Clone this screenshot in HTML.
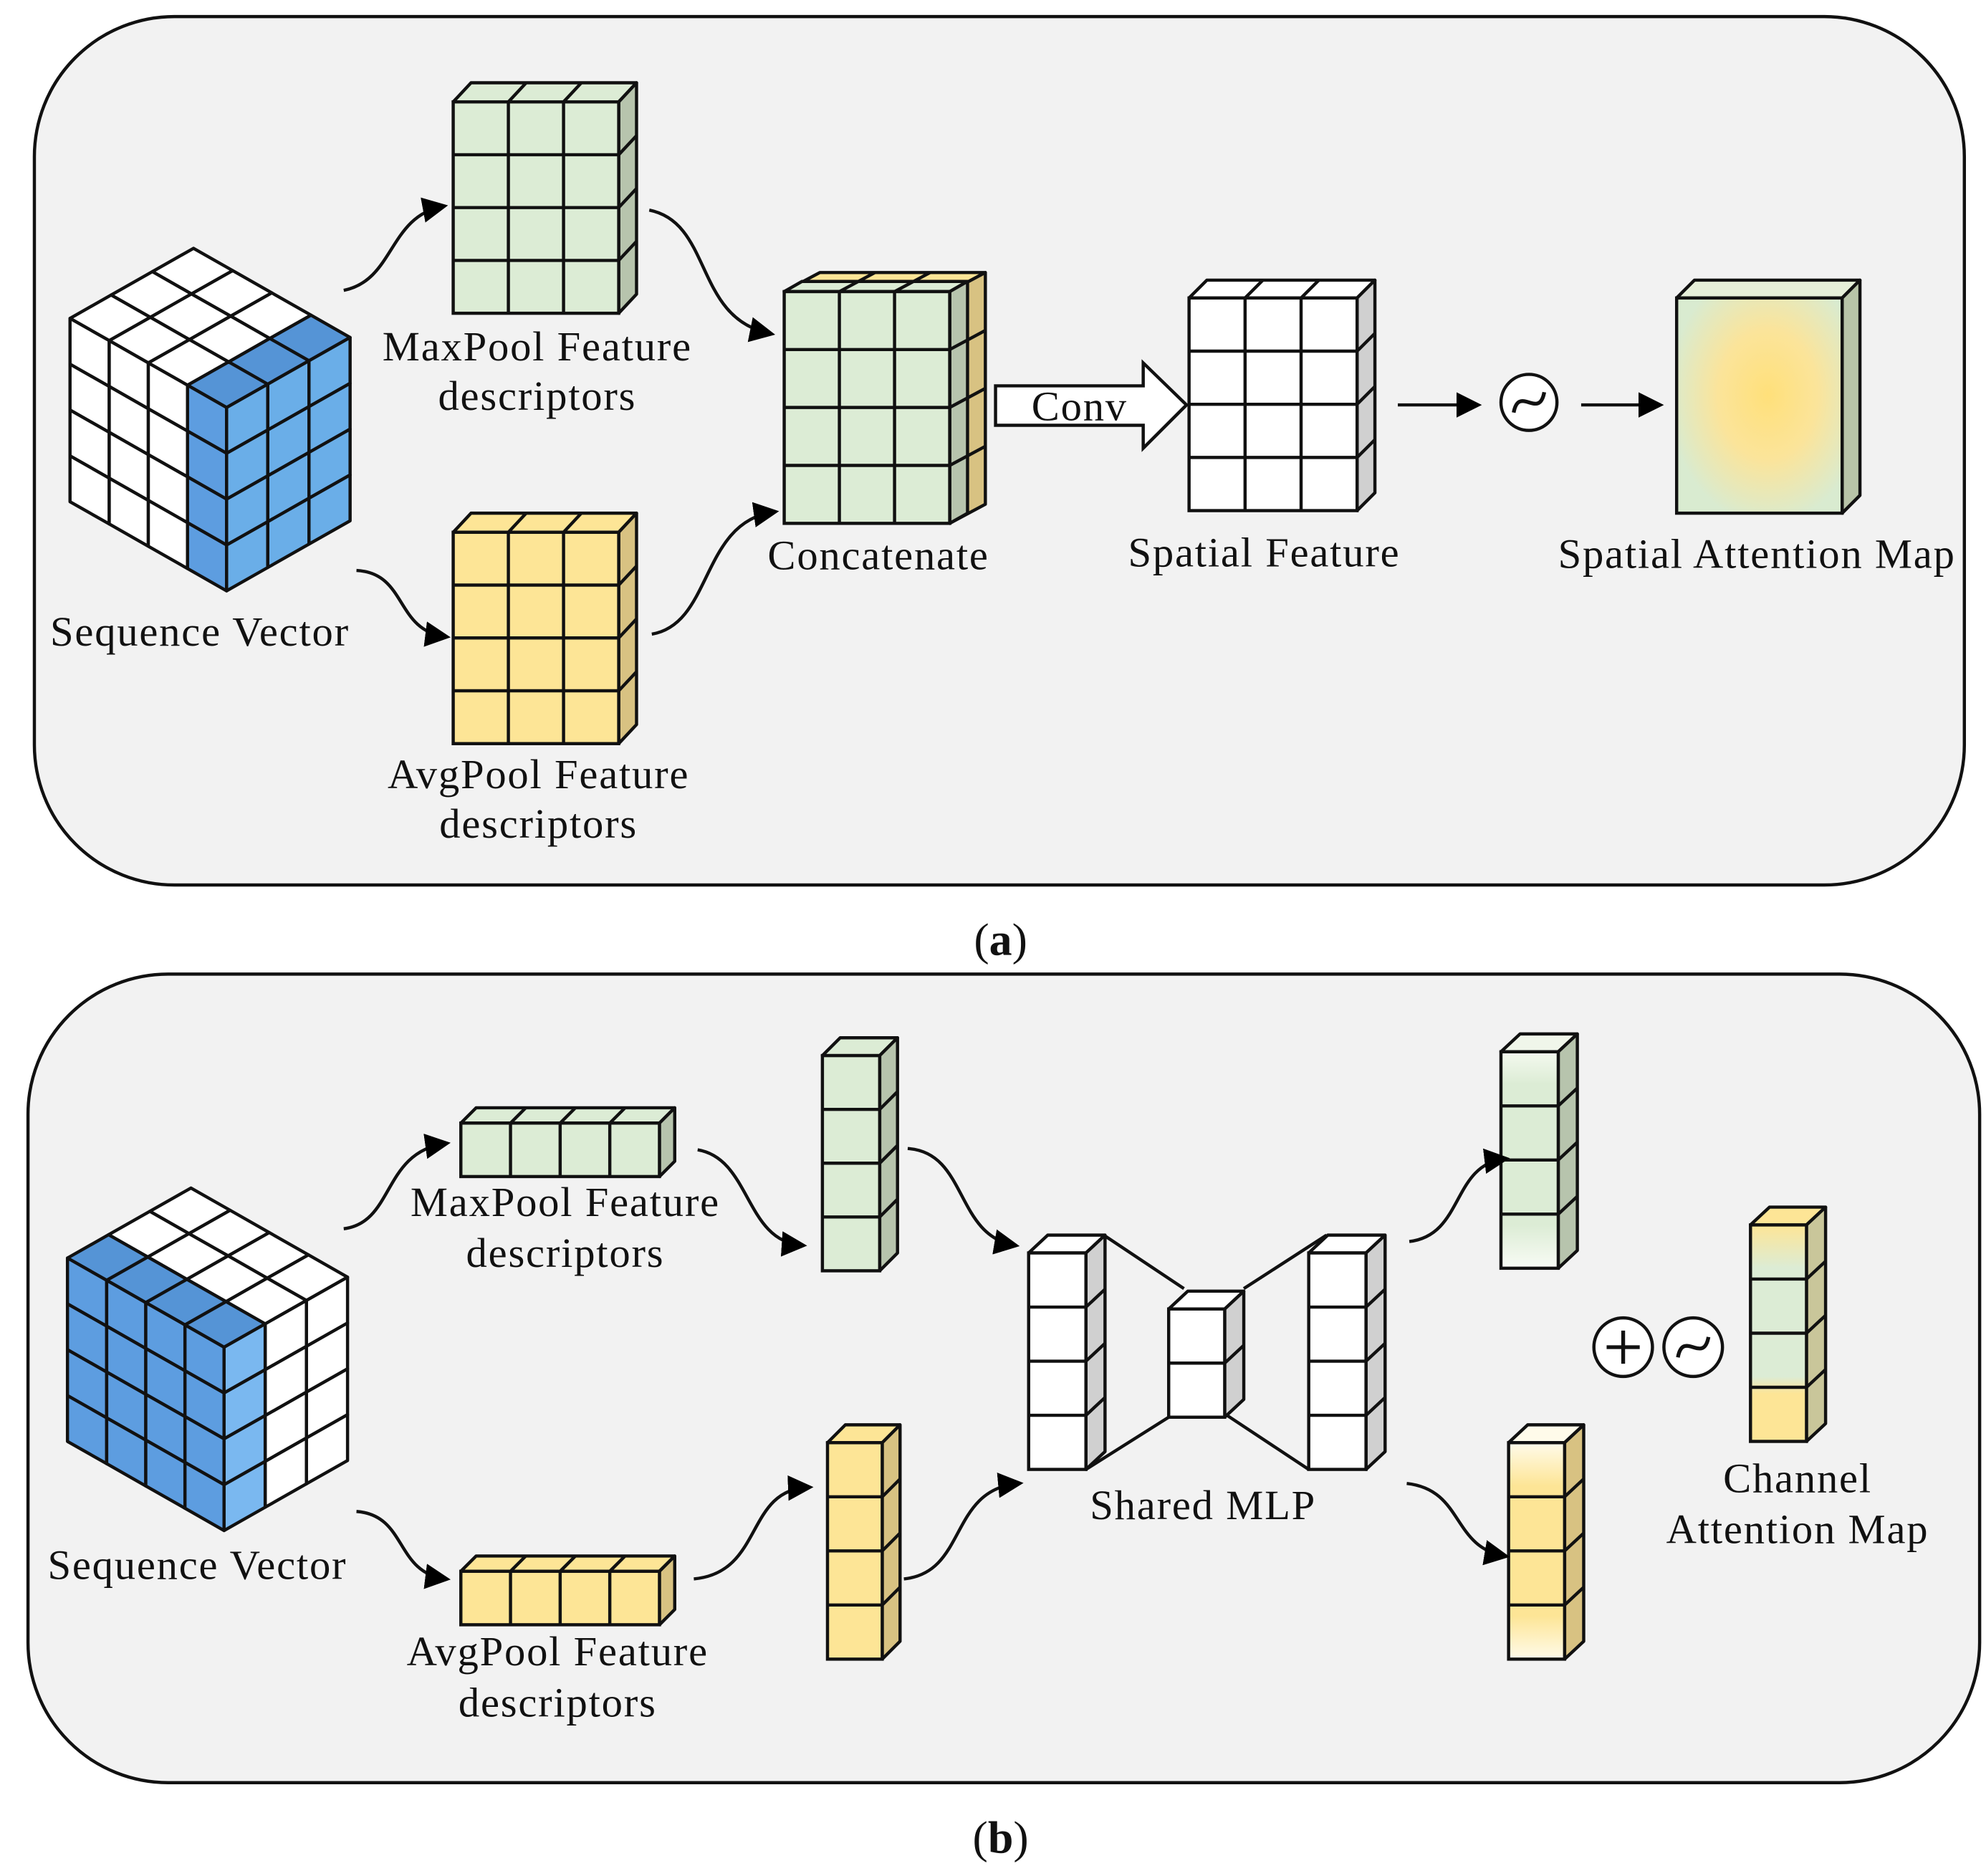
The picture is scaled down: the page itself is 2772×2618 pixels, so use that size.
<!DOCTYPE html>
<html><head><meta charset="utf-8"><style>
html,body{margin:0;padding:0;background:#fff}
svg{display:block}
text{font-family:"Liberation Serif",serif;fill:#111}
</style></head><body>
<svg id="s" xmlns="http://www.w3.org/2000/svg" width="2772" height="2618" viewBox="0 0 1560 1473.3">
<defs>
<marker id="ah2" viewBox="0 0 10 10" refX="8" refY="5" markerWidth="20" markerHeight="20" orient="auto" markerUnits="userSpaceOnUse"><path d="M0,0 L10,5 L0,10 z" fill="#000"/></marker>
<radialGradient id="sam" cx="0.55" cy="0.45" r="0.6"><stop offset="0" stop-color="#ffe07a"/><stop offset="0.5" stop-color="#fbe49a"/><stop offset="1" stop-color="#d9ebd0"/></radialGradient>
<linearGradient id="gw" x1="0" y1="0" x2="0" y2="1"><stop offset="0" stop-color="#f4f9ef"/><stop offset="0.15" stop-color="#dcecd5"/><stop offset="0.8" stop-color="#dcecd5"/><stop offset="1" stop-color="#f8fbf5"/></linearGradient>
<linearGradient id="yw" x1="0" y1="0" x2="0" y2="1"><stop offset="0" stop-color="#fffbea"/><stop offset="0.2" stop-color="#fde596"/><stop offset="0.8" stop-color="#fde596"/><stop offset="1" stop-color="#fffbea"/></linearGradient>
<linearGradient id="cam" x1="0" y1="0" x2="0" y2="1"><stop offset="0" stop-color="#fde596"/><stop offset="0.2" stop-color="#dcecd5"/><stop offset="0.7" stop-color="#dcecd5"/><stop offset="0.78" stop-color="#fde596"/><stop offset="1" stop-color="#fde596"/></linearGradient>
</defs>
<rect x="27" y="13" width="1516" height="682" rx="110" fill="#f2f2f2" stroke="#111" stroke-width="2.5"/>
<rect x="22" y="765" width="1533" height="635" rx="110" fill="#f2f2f2" stroke="#111" stroke-width="2.5"/>
<g id="g"></g>
<g font-size="33" letter-spacing="1" text-anchor="middle">
<text x="422" y="283">MaxPool Feature</text><text x="422" y="322">descriptors</text>
<text x="157" y="507">Sequence Vector</text>
<text x="423" y="619">AvgPool Feature</text><text x="423" y="658">descriptors</text>
<text x="690" y="447">Concatenate</text>
<text x="993" y="445">Spatial Feature</text>
<text x="1380" y="446">Spatial Attention Map</text>
<text x="848" y="330">Conv</text>
<text x="444" y="955">MaxPool Feature</text><text x="444" y="995">descriptors</text>
<text x="155" y="1240">Sequence Vector</text>
<text x="438" y="1308">AvgPool Feature</text><text x="438" y="1348">descriptors</text>
<text x="945" y="1193">Shared MLP</text>
<text x="1412" y="1172">Channel</text><text x="1412" y="1212">Attention Map</text>
</g>
<text x="786" y="750" font-size="36" text-anchor="middle">(<tspan font-weight="bold">a</tspan>)</text>
<text x="786" y="1455" font-size="36" text-anchor="middle">(<tspan font-weight="bold">b</tspan>)</text>
</svg>
<script>
var g=document.getElementById('g'),h='';
function P(pts,f,sw){return '<polygon points="'+pts.map(p=>p[0].toFixed(1)+','+p[1].toFixed(1)).join(' ')+'" fill="'+f+'" stroke="#111" stroke-width="'+(sw||2.5)+'" stroke-linejoin="round"/>';}
function L(a,b,sw){return '<line x1="'+a[0]+'" y1="'+a[1]+'" x2="'+b[0]+'" y2="'+b[1]+'" stroke="#111" stroke-width="'+(sw||2.5)+'"/>';}
function box(x,y,w,h2,c,r,dx,dy,fr,tp,sd){
 var s='';
 s+=P([[x,y],[x+dx,y-dy],[x+w+dx,y-dy],[x+w,y]],tp);
 s+=P([[x+w,y],[x+w+dx,y-dy],[x+w+dx,y+h2-dy],[x+w,y+h2]],sd);
 s+='<rect x="'+x+'" y="'+y+'" width="'+w+'" height="'+h2+'" fill="'+fr+'" stroke="#111" stroke-width="2.5"/>';
 for(var i=1;i<c;i++){var xx=x+w*i/c;s+=L([xx,y],[xx,y+h2]);s+=L([xx,y],[xx+dx,y-dy]);}
 for(var j=1;j<r;j++){var yy=y+h2*j/r;s+=L([x,yy],[x+w,yy]);s+=L([x+w,yy],[x+w+dx,yy-dy]);}
 return s;}
var G='#dcecd5',GS='#b7c4ad',Y='#fde596',YS='#d8c282',W='#fff',WS='#d0d0d0';
h+=box(356,80,130,166,3,4,14,15,G,G,GS);
h+=box(356,418,130,166,3,4,14,15,Y,Y,YS);
h+=P([[616,229],[644,214],[774,214],[746,229]],Y);
h+=P([[746,229],[774,214],[774,396],[746,411]],YS);
h+=P([[616,229],[630,221],[760,221],[746,229]],G);
h+=P([[746,229],[760,221],[760,403],[746,411]],GS);
h+=box(616,229,130,182,3,4,0,0,G,G,GS);
for(var i=1;i<3;i++){var xx=616+130*i/3;h+=L([xx,229],[xx+28,214]);}
for(var j=1;j<4;j++){var yy=229+182*j/4;h+=L([746,yy],[774,yy-15]);}
h+=box(934,234,132,167,3,4,14,14,W,W,WS);
h+=box(1317,234,130,169,1,1,14,14,'url(#sam)','#e6efd9','#b8c4a8');
h+='<path d="M782,303 L898,303 L898,285 L932,318 L898,352 L898,334 L782,334 z" fill="#fff" stroke="#111" stroke-width="2.5"/>';
h+='<path d="M1098,318 L1160,318" stroke="#111" stroke-width="2.5" marker-end="url(#ah2)"/>';
h+='<path d="M1242,318 L1303,318" stroke="#111" stroke-width="2.5" marker-end="url(#ah2)"/>';
function tilde(cx,cy,r){return '<circle cx="'+cx+'" cy="'+cy+'" r="'+r+'" fill="#fff" stroke="#111" stroke-width="2.5"/><path d="M'+(cx-12)+','+(cy+8)+' C'+(cx-8)+','+(cy-14)+' '+(cx+8)+','+(cy+14)+' '+(cx+12)+','+(cy-8)+'" fill="none" stroke="#111" stroke-width="3"/>';}
h+=tilde(1201,316,22);
function cube(ox,oy,mode){
 var B=[152+ox,195+oy],u=[-97/3,55/3],v=[123/4,70/4],hh=36,s='';
 function pt(a,b){return [B[0]+u[0]*a+v[0]*b,B[1]+u[1]*a+v[1]*b];}
 for(var i=0;i<3;i++)for(var j=0;j<4;j++){
  var col='#fff';
  if(mode=='a'&&j==3)col='#5594d6';
  if(mode=='b'&&i==2)col='#5594d6';
  s+=P([pt(i,j),pt(i+1,j),pt(i+1,j+1),pt(i,j+1)],col);}
 for(var j=0;j<4;j++)for(var k=0;k<4;k++){
  var a=pt(3,j),b=pt(3,j+1);var col='#fff';
  if(mode=='a'&&j==3)col='#5d9de0';
  if(mode=='b')col='#5d9de0';
  s+=P([[a[0],a[1]+k*hh],[b[0],b[1]+k*hh],[b[0],b[1]+(k+1)*hh],[a[0],a[1]+(k+1)*hh]],col);}
 for(var i=0;i<3;i++)for(var k=0;k<4;k++){
  var a=pt(i,4),b=pt(i+1,4);var col='#fff';
  if(mode=='a')col='#6aaee8';
  if(mode=='b'&&i==2)col='#7ab8f0';
  s+=P([[a[0],a[1]+k*hh],[b[0],b[1]+k*hh],[b[0],b[1]+(k+1)*hh],[a[0],a[1]+(k+1)*hh]],col);}
 return s;}
h+=cube(0,0,'a');
h+=cube(-2,738,'b');
h+=box(362,882,156,42,4,1,12,12,G,G,GS);
h+=box(362,1234,156,42,4,1,12,12,Y,Y,YS);
h+=box(646,829,45,169,1,4,14,14,G,G,GS);
h+=box(650,1133,43,170,1,4,14,14,Y,Y,YS);
h+=L([867,970],[930,1012]);h+=L([853,1154],[918,1113]);
h+=L([1042,970],[977,1012]);h+=L([1028,1154],[963,1111]);
h+=box(808,984,45,170,1,4,15,14,W,W,WS);
h+=box(918,1028,44,85,1,2,15,14,W,W,WS);
h+=box(1028,984,45,170,1,4,15,14,W,W,WS);
h+=box(1179,826,45,170,1,4,15,14,'url(#gw)','#f0f6ea',GS);
h+=box(1185,1133,44,170,1,4,15,14,'url(#yw)','#fffbea',YS);
h+=box(1375,962,44,170,1,4,15,14,'url(#cam)',Y,'#c9c69a');
h+='<circle cx="1275" cy="1058" r="23" fill="#fff" stroke="#111" stroke-width="2.5"/>'+L([1262,1058],[1288,1058],3)+L([1275,1045],[1275,1071],3);
h+=tilde(1330,1058,23);
var arr=['M270,228 C310,220 305,170 348,162','M510,165 C560,175 545,250 605,262','M280,448 C320,450 310,495 350,500','M512,498 C560,490 550,410 608,402',
'M270,965 C310,960 300,905 350,898','M548,903 C590,910 585,975 630,978','M280,1187 C320,1190 310,1235 350,1240','M545,1240 C600,1235 585,1170 635,1168',
'M713,902 C760,905 750,970 797,978','M710,1240 C760,1235 745,1170 800,1165','M1107,975 C1150,970 1140,915 1182,910','M1105,1165 C1150,1170 1140,1215 1182,1222'];
arr.forEach(function(d){h+='<path d="'+d+'" fill="none" stroke="#111" stroke-width="2.5" marker-end="url(#ah2)"/>';});
g.innerHTML=h;
</script>
</body></html>
